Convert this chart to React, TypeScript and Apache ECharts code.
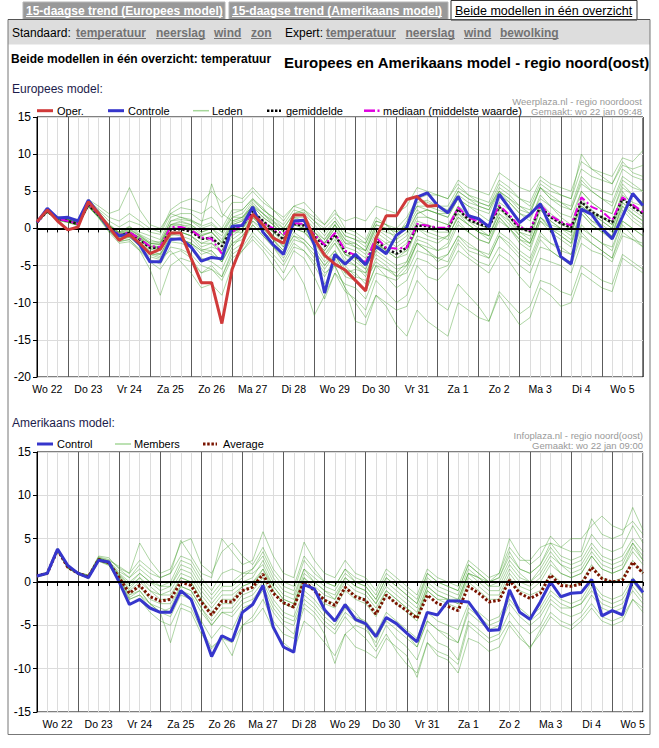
import React, { useEffect, useRef } from 'react';
import * as echarts from 'echarts';

// ---------- tick labels / categories ----------
const dayNames = ['Wo 22', 'Do 23', 'Vr 24', 'Za 25', 'Zo 26', 'Ma 27', 'Di 28', 'Wo 29', 'Do 30', 'Vr 31', 'Za 1', 'Zo 2', 'Ma 3', 'Di 4', 'Wo 5', 'Do 6'];
const euStartHour = 6;
const usStartHour = 0;
const stepCount = 60;

// ---------- Europees model ----------
const euOper = [0.9, 2.5, 1.0, -0.2, 0.2, 3.6, 2.0, 0.2, -1.6, -0.8, -2.0, -3.4, -2.8, -0.6, -0.6, -4.0, -7.3, -7.3, -12.8, -5.5, -2.0, 1.9, 0.5, -1.3, -2.0, 1.8, 1.8, -1.4, -3.6, -4.8, -5.6, -7.0, -8.4, -1.3, 1.7, 1.7, 3.9, 4.3, 3.0, 3.1];
const euControle = [0.8, 2.7, 1.4, 1.5, 1.0, 3.8, 2.0, 0.0, -1.0, -0.8, -2.2, -4.5, -4.5, -1.5, -1.4, -2.5, -4.4, -3.9, -4.1, 0.3, 0.4, 2.9, -0.5, -2.2, -3.5, 1.0, 1.1, -2.2, -8.7, -3.5, -4.8, -3.5, -4.9, -2.4, -3.4, -0.9, 0.1, 4.2, 4.8, 3.1, 2.1, 4.3, 1.7, 1.3, 0.2, 4.6, 2.7, 0.8, 1.9, 3.3, 0.2, -3.8, -4.8, 2.6, 1.9, 0.0, -1.4, 1.6, 4.7, 3.1];
const euGemiddelde = [0.8, 2.3, 1.3, 1.0, 0.6, 3.2, 1.8, 0.2, -1.0, -0.6, -1.5, -2.6, -2.6, -0.2, -0.1, -0.4, -1.4, -1.3, -2.4, 0.0, 0.4, 2.3, 1.0, -0.2, -1.5, 0.6, 0.4, -1.0, -2.4, -0.8, -3.1, -3.7, -4.8, -1.6, -2.7, -3.4, -2.6, 0.4, 0.3, 0.0, -0.1, 2.6, 1.2, 0.6, 0.2, 2.9, 1.6, 0.0, -0.4, 3.0, 1.5, 0.7, 0.1, 3.6, 2.2, 1.5, 0.8, 4.0, 2.9, 2.0];
const euMediaan = [0.8, 2.4, 1.3, 1.0, 0.6, 3.3, 1.9, 0.3, -0.9, -0.5, -1.4, -2.4, -2.5, 0.2, 0.2, -0.2, -1.2, -1.4, -3.4, -0.5, 0.6, 2.0, 0.7, 0.0, -0.8, 0.7, 0.6, -0.8, -2.2, -0.6, -3.0, -3.6, -4.6, -1.2, -2.6, -2.7, -2.6, 0.6, 0.4, 0.1, 0.1, 2.8, 1.5, 0.9, 0.4, 3.1, 1.8, 0.2, -0.2, 3.2, 1.7, 0.9, 0.4, 4.2, 2.9, 2.3, 1.1, 4.2, 3.2, 2.2];

const eu01 = [0.9, 2.6, 1.5, 1.2, 0.8, 3.5, 2.1, 0.6, -0.5, 0.3, -0.8, -1.5, -2.0, 1.0, 1.5, 1.2, 0.3, 0.8, -0.5, 2.0, 2.5, 4.0, 2.8, 1.0, -0.5, 1.5, 0.0, -2.5, -4.5, -3.0, -5.5, -6.0, -7.5, -4.0, -5.0, -6.5, -5.0, -2.0, -3.0, -4.5, -3.5, -1.0, -2.5, -3.0, -4.0, -1.0, -2.5, -4.0, -5.0, -1.5, -3.0, -4.0, -4.5, -0.5, -2.0, -3.0, -4.0, 0.5, -1.0, -2.5];
const eu02 = [0.7, 2.2, 1.1, 0.8, 0.4, 2.9, 1.5, -0.3, -1.8, -1.5, -2.8, -4.2, -4.8, -2.5, -2.8, -3.5, -5.0, -5.5, -6.5, -3.0, -2.0, 0.5, -1.0, -2.5, -4.0, -1.5, -2.0, -3.5, -5.5, -3.5, -6.0, -5.5, -6.0, -3.0, -2.0, -1.5, 0.5, 3.0, 2.5, 2.0, 1.5, 4.0, 3.0, 2.0, 1.0, 4.5, 3.5, 2.0, 1.0, 4.5, 3.0, 1.5, 0.5, 5.0, 3.5, 2.5, 2.0, 6.0, 4.5, 3.5];
const eu03 = [0.8, 2.4, 1.4, 1.1, 0.7, 3.3, 1.9, 0.4, -0.7, -0.2, -1.0, -2.0, -2.2, 0.5, 0.8, 0.5, -0.5, 0.0, -1.0, 1.5, 2.0, 3.8, 2.5, 1.5, 0.0, 2.0, 2.2, 1.0, 0.0, 1.5, -0.5, -1.0, -2.0, 1.0, 0.5, -0.5, 0.5, 3.5, 3.8, 3.0, 2.5, 5.0, 4.0, 3.0, 2.5, 5.5, 4.5, 3.0, 2.0, 5.5, 4.5, 3.5, 3.0, 7.0, 5.5, 5.0, 4.5, 8.0, 7.0, 6.5];
const eu04 = [0.8, 2.1, 1.2, 0.9, 0.5, 3.0, 1.6, 0.0, -1.2, -1.0, -2.0, -3.5, -4.0, -3.0, -4.5, -6.0, -8.0, -7.5, -9.0, -5.0, -3.0, -1.0, -2.5, -4.0, -6.0, -3.0, -4.0, -6.5, -9.5, -6.0, -8.5, -9.5, -11.0, -7.0, -8.5, -10.0, -9.0, -5.0, -6.5, -7.0, -5.5, -3.0, -4.0, -5.0, -6.0, -3.5, -4.5, -6.5, -8.0, -4.0, -4.5, -5.0, -6.0, -2.0, -3.0, -3.5, -4.5, -1.0, -1.5, -2.5];
const eu05 = [0.9, 2.5, 1.4, 1.2, 0.9, 3.6, 2.4, 1.0, 0.2, 1.0, 0.5, -0.5, -0.8, 2.0, 2.8, 2.5, 2.0, 3.0, 1.5, 3.5, 3.5, 5.0, 3.5, 2.5, 1.0, 3.0, 3.5, 2.0, 0.5, 2.5, 0.0, -0.5, -1.5, 1.5, 0.5, -1.0, 0.0, 2.5, 1.5, 1.0, 0.5, 3.0, 1.5, 0.5, 0.0, 3.0, 1.0, -1.0, -2.0, 1.5, 0.0, -1.0, -2.0, 2.0, 0.5, -0.5, -1.0, 3.0, 1.5, 0.5];
const eu06 = [0.7, 2.3, 1.3, 0.9, 0.5, 3.1, 1.7, 0.1, -1.1, -0.8, -1.8, -3.0, -3.5, -1.0, -0.5, -1.0, -2.5, -2.0, -3.5, -1.0, 0.0, 2.0, 0.5, -1.0, -2.5, 0.0, -0.5, -2.0, -4.0, -2.0, -4.5, -5.0, -6.5, -3.0, -4.0, -5.0, -4.5, -1.5, -2.0, -3.0, -2.0, 1.0, -0.5, -1.5, -2.0, 1.5, 0.0, -1.5, -2.5, 1.0, -0.5, -1.5, -2.5, 2.0, 0.5, -0.5, -1.5, 2.5, 1.0, 0.0];
const eu07 = [0.8, 2.3, 1.2, 1.0, 0.6, 3.2, 1.8, 0.3, -0.8, -0.4, -1.2, -2.4, -2.6, 0.0, 0.3, -0.2, -1.0, -0.5, -1.8, 0.8, 1.2, 3.2, 2.0, 0.8, -0.5, 1.5, 1.5, 0.0, -1.5, 0.5, -2.0, -2.0, -3.0, 0.0, -0.5, -1.0, 1.0, 4.0, 4.5, 4.5, 4.0, 6.5, 5.5, 5.0, 4.5, 7.5, 6.5, 5.5, 5.0, 7.0, 6.0, 5.5, 5.0, 9.0, 8.0, 7.5, 7.0, 9.5, 9.0, 10.5];
const eu08 = [0.8, 2.2, 1.3, 1.0, 0.6, 3.1, 1.7, 0.1, -1.0, -0.7, -1.6, -2.8, -3.0, -0.8, -1.0, -1.5, -2.8, -3.0, -4.5, -2.0, -1.5, 0.5, -1.0, -2.5, -4.5, -2.0, -3.0, -5.0, -7.5, -5.0, -8.0, -10.0, -12.0, -9.0, -10.5, -13.0, -14.5, -11.0, -12.5, -13.5, -14.5, -10.0, -11.0, -12.0, -12.5, -9.0, -11.0, -13.0, -12.0, -8.0, -9.0, -10.5, -10.0, -6.0, -7.0, -8.0, -8.5, -4.0, -5.0, -6.0];
const eu09 = [0.9, 2.4, 1.3, 1.0, 0.7, 3.3, 1.9, 0.2, -0.9, -0.3, -1.3, -2.2, -2.5, 0.3, 0.5, 0.3, -0.8, -0.5, -2.0, 0.5, 1.0, 2.5, 1.0, -0.5, -2.0, 0.5, 0.5, -1.0, -2.0, 0.0, -2.5, -3.0, -4.0, -1.0, -2.0, -3.0, -2.0, 1.0, 0.5, 0.0, 0.0, 3.0, 2.0, 1.0, 0.5, 3.5, 2.5, 0.5, -0.5, 3.5, 2.0, 1.0, 0.0, 4.0, 2.5, 1.5, 0.5, 5.0, 3.0, 2.0];
const eu10 = [0.7, 2.2, 1.2, 0.9, 0.5, 3.0, 1.6, -0.1, -1.4, -1.2, -2.4, -3.8, -4.2, -1.8, -2.0, -2.5, -4.0, -4.5, -5.5, -2.5, -1.0, 1.0, -0.5, -1.5, -3.0, -0.5, -1.5, -3.0, -5.0, -3.0, -5.0, -6.5, -7.0, -4.5, -5.5, -6.5, -6.0, -3.0, -3.5, -4.0, -4.5, -1.5, -3.0, -3.5, -4.0, -1.0, -2.0, -3.5, -4.5, -1.0, -2.0, -3.0, -3.5, 0.0, -1.0, -2.0, -3.0, 1.0, 0.0, -1.0];
const eu11 = [0.8, 2.5, 1.5, 1.3, 1.0, 3.8, 2.6, 1.5, 1.0, 2.0, 1.0, 0.0, -0.5, 2.5, 3.5, 4.0, 3.5, 5.0, 3.5, 4.5, 4.0, 5.5, 4.0, 2.5, 1.5, 3.0, 2.5, 1.0, -0.5, 1.0, -1.0, -1.5, -2.5, 0.5, 0.0, -1.5, -0.5, 2.0, 2.5, 2.0, 1.5, 4.0, 3.0, 2.5, 2.0, 5.0, 4.0, 3.0, 2.5, 5.5, 4.0, 3.5, 2.5, 6.5, 5.0, 4.0, 3.5, 7.0, 6.0, 5.0];
const eu12 = [0.8, 2.2, 1.2, 1.0, 0.6, 3.2, 1.8, 0.2, -1.1, -0.9, -1.9, -3.2, -3.4, -1.2, -1.5, -2.0, -3.0, -2.5, -3.0, -0.5, 0.0, 1.5, 0.5, -0.5, -1.5, 1.0, 1.0, -0.5, -1.5, 0.5, -1.5, -2.5, -3.5, -0.5, -1.5, -2.5, -1.5, 1.5, 1.5, 1.0, 0.5, 2.0, 0.5, -0.5, -1.5, 1.5, 0.0, -2.0, -3.0, 1.0, 0.0, -1.0, -2.0, 2.5, 1.0, 0.0, -1.0, 3.5, 2.0, 1.0];
const eu13 = [0.8, 2.3, 1.2, 0.9, 0.5, 3.0, 1.5, -0.3, -1.7, -1.5, -3.0, -5.5, -9.0, -5.0, -4.0, -4.5, -6.0, -5.0, -6.5, -3.5, -2.5, -0.5, -2.0, -3.5, -5.0, -2.5, -3.0, -4.5, -6.5, -4.0, -6.5, -7.0, -8.5, -5.0, -6.5, -8.0, -7.0, -4.0, -4.5, -5.5, -5.0, -2.0, -3.5, -4.5, -5.0, -2.5, -3.5, -5.0, -6.0, -2.5, -3.0, -4.0, -5.0, -1.0, -2.0, -3.0, -4.0, -0.5, -1.5, -2.0];
const eu14 = [0.8, 2.3, 1.3, 1.1, 0.6, 3.2, 1.8, 0.3, -0.9, -0.6, -1.5, -2.5, -2.5, 0.0, 0.0, -0.3, -1.5, -1.0, -2.5, 0.0, 0.5, 2.5, 1.0, 0.0, -1.5, 0.5, 0.0, -1.5, -3.0, -1.0, -3.5, -4.0, -5.0, -2.0, -3.0, -3.5, -3.0, 0.0, 0.0, -0.5, -0.5, 2.5, 1.0, 0.5, 0.0, 3.0, 1.5, 0.0, -0.5, 3.0, 1.5, 0.5, 0.0, 3.5, 2.0, 1.5, 0.5, 4.0, 3.0, 2.0];
const eu15 = [0.9, 2.4, 1.4, 1.1, 0.7, 3.4, 2.0, 0.5, -0.6, 0.0, -0.9, -1.8, -1.8, 1.0, 1.2, 1.0, 0.0, 0.5, -0.5, 1.5, 1.5, 3.0, 1.5, 0.5, -1.0, 1.5, 1.0, -0.5, -2.0, 0.0, -2.0, -2.5, -3.0, 0.5, 0.0, -0.5, 0.5, 3.0, 3.0, 2.5, 2.0, 5.0, 4.0, 3.5, 3.0, 6.0, 5.0, 4.0, 3.5, 6.5, 5.5, 4.5, 4.0, 8.0, 7.0, 6.5, 6.0, 8.5, 8.0, 8.5];
const eu16 = [0.8, 2.3, 1.3, 1.0, 0.6, 3.1, 1.7, 0.1, -1.0, -0.5, -1.4, -2.4, -2.8, -0.5, -0.5, -1.0, -2.0, -2.0, -3.0, -0.5, 0.0, 2.0, 0.5, -1.0, -2.0, 0.0, -0.5, -2.0, -3.5, -2.0, -4.0, -5.0, -6.0, -3.5, -4.5, -5.5, -5.0, -2.0, -3.0, -4.0, -3.5, -1.0, -2.0, -3.0, -3.5, -0.5, -1.5, -3.0, -4.0, -0.5, -2.0, -2.5, -3.5, 0.5, -1.0, -2.0, -2.5, 1.0, 0.0, -1.0];
const eu17 = [0.8, 2.3, 1.3, 1.0, 0.6, 3.2, 1.8, 0.2, -1.0, -0.6, -1.5, -2.7, -2.8, -0.5, -0.5, -1.0, -2.0, -1.5, -3.0, -0.5, -0.5, 1.5, 0.0, -1.5, -3.0, -1.0, -2.0, -4.0, -6.0, -5.0, -8.0, -12.5, -13.0, -9.0, -10.0, -11.0, -10.5, -7.0, -8.5, -10.0, -11.0, -7.5, -9.0, -10.5, -12.5, -8.5, -10.0, -11.5, -10.5, -7.0, -7.5, -8.5, -9.0, -5.0, -6.0, -7.0, -7.5, -3.5, -4.5, -5.5];
const eu18 = [0.8, 2.4, 1.3, 1.1, 0.7, 3.3, 1.9, 0.4, -0.6, -0.1, -1.0, -2.0, -2.2, 0.5, 1.0, 0.5, -0.5, 0.0, -1.5, 1.0, 1.5, 3.0, 2.0, 1.0, 0.0, 2.0, 2.5, 1.5, 0.5, 2.0, 1.0, 1.5, 1.0, 3.0, 2.5, 2.0, 3.0, 5.5, 5.0, 4.5, 4.0, 6.0, 4.5, 3.5, 3.0, 5.0, 3.5, 2.0, 1.5, 4.0, 3.0, 2.0, 1.5, 5.0, 3.5, 2.5, 2.0, 5.5, 4.5, 3.5];
const eu19 = [0.7, 2.2, 1.3, 1.0, 0.5, 3.1, 1.7, 0.0, -1.3, -0.9, -2.0, -3.3, -3.8, -1.5, -1.5, -2.0, -3.5, -3.0, -4.5, -1.5, -0.5, 1.5, 0.0, -1.0, -2.5, 0.5, 0.0, -1.5, -3.5, -1.5, -3.5, -4.0, -5.5, -2.0, -3.0, -4.0, -3.5, 0.0, -0.5, -1.0, -1.5, 2.0, 1.0, 0.0, -1.0, 2.5, 1.5, -0.5, -1.5, 2.5, 1.0, 0.0, -1.0, 3.5, 2.0, 1.0, 0.0, 4.0, 3.0, 2.0];
const eu20 = [0.9, 2.5, 1.4, 1.2, 0.8, 3.4, 2.0, 0.4, -0.5, 0.2, -0.5, -1.0, -1.5, 1.5, 2.0, 2.0, 1.0, 1.5, 0.0, 2.5, 2.5, 4.0, 2.5, 1.5, 0.5, 2.5, 2.0, 0.5, -1.0, 1.0, -1.0, -1.5, -2.0, 1.0, 0.5, 0.0, 1.5, 4.0, 3.5, 3.0, 3.0, 5.5, 4.5, 4.0, 3.5, 6.5, 5.5, 4.0, 3.0, 6.0, 5.0, 4.5, 4.0, 10.0, 8.0, 7.0, 6.0, 9.0, 7.5, 7.0];
const eu21 = [0.8, 2.6, 1.6, 1.4, 1.2, 3.9, 3.0, 2.0, 2.5, 5.5, 2.5, 0.5, 0.0, 2.0, 1.5, 1.0, 0.5, 6.0, 2.0, 1.0, 1.5, 3.5, 2.0, 0.5, -1.0, 1.0, 0.5, -1.5, -3.0, -1.0, -3.5, -4.5, -5.5, -2.0, -3.0, -4.0, -3.0, 0.0, -1.0, -1.5, -1.0, 1.5, 0.5, -0.5, -1.0, 2.0, 1.0, -0.5, -1.0, 2.5, 1.0, 0.0, -0.5, 3.0, 2.0, 1.0, 0.0, 3.5, 2.5, 1.5];
const eu22 = [0.7, 2.2, 1.2, 0.9, 0.4, 2.9, 1.4, -0.5, -2.0, -1.8, -3.0, -4.5, -5.5, -3.5, -3.0, -4.0, -6.0, -5.5, -7.0, -4.0, -3.0, -1.5, -3.0, -5.0, -7.0, -5.0, -7.5, -11.7, -9.0, -6.0, -7.5, -8.0, -9.5, -6.0, -6.5, -7.0, -5.5, -2.0, -2.5, -3.0, -2.5, 0.5, -0.5, -1.5, -2.0, 1.0, 0.0, -1.5, -2.0, 1.5, 0.5, 0.0, -0.5, 3.0, 2.0, 1.5, 1.0, 4.5, 3.5, 3.0];
const eu23 = [0.9, 2.3, 1.4, 1.1, 0.7, 3.2, 1.9, 0.3, -0.7, -0.5, -1.2, -2.0, -2.0, 0.5, 0.5, 0.0, -1.0, -0.5, -2.0, 0.5, 1.0, 3.0, 1.5, 0.5, -1.0, 1.0, 1.0, -0.5, -2.0, 0.5, -1.5, -2.0, -3.0, 0.0, -1.0, -2.0, -1.0, 2.0, 2.5, 2.0, 2.0, 4.5, 3.5, 3.0, 2.5, 5.0, 4.0, 2.5, 2.0, 5.5, 4.0, 3.0, 2.5, 6.0, 5.0, 4.0, 3.0, 6.5, 5.5, 5.0];
const eu24 = [0.7, 2.2, 1.1, 0.8, 0.4, 3.0, 1.5, -0.2, -1.5, -1.2, -2.2, -3.5, -3.5, -1.5, -1.5, -2.0, -3.0, -3.5, -4.5, -2.0, -1.0, 1.0, 0.0, -1.5, -3.5, -1.0, -1.5, -3.0, -5.0, -3.5, -6.0, -7.0, -8.5, -5.0, -5.5, -6.0, -4.5, -1.0, -1.5, -2.0, -1.0, 1.5, 0.5, -0.5, -1.0, 2.0, 0.5, -1.0, -2.0, 1.5, 0.0, -0.5, -1.5, 2.5, 1.0, 0.5, -0.5, 3.0, 2.0, 1.0];
const euLeden = [eu01, eu02, eu03, eu04, eu05, eu06, eu07, eu08, eu09, eu10, eu11, eu12, eu13, eu14, eu15, eu16, eu17, eu18, eu19, eu20, eu21, eu22, eu23, eu24];

// ---------- Amerikaans model ----------
const usControl = [0.7, 1.0, 3.8, 1.9, 1.0, 0.5, 2.5, 2.3, 0.0, -2.6, -2.0, -3.0, -3.5, -3.5, -1.0, -2.0, -5.2, -8.6, -6.2, -6.8, -3.5, -2.6, -0.4, -5.2, -7.5, -8.1, -0.3, -0.8, -3.2, -4.5, -2.6, -4.3, -4.8, -6.3, -4.1, -4.8, -5.9, -6.9, -3.5, -3.8, -2.2, -2.2, -2.3, -3.9, -5.6, -5.5, -0.9, -3.5, -4.3, -2.3, 0.0, -1.7, -1.3, -1.2, 0.3, -3.9, -3.3, -3.8, 0.3, -1.2];
const usAverage = [0.7, 1.0, 3.7, 1.7, 1.0, 0.6, 2.6, 2.2, 0.5, -1.3, -0.4, -1.7, -2.2, -2.0, 0.0, -0.4, -2.3, -3.8, -2.2, -2.3, -1.0, -0.6, 0.9, -1.3, -2.4, -2.9, 0.1, -1.0, -2.1, -2.7, -0.6, -1.7, -2.1, -3.7, -1.5, -2.5, -3.3, -4.2, -1.5, -2.5, -2.8, -3.3, -0.5, -1.3, -2.3, -2.1, 0.2, -1.3, -1.9, -1.3, 0.8, -0.4, -0.5, -0.2, 1.7, 0.4, 0.0, 0.2, 2.3, 1.0];

const us01 = [0.7, 1.1, 3.9, 1.8, 1.1, 0.8, 3.0, 2.8, 1.5, 0.5, 1.5, 0.5, -0.5, -0.5, 2.0, 1.5, -0.5, -2.0, -0.5, -0.5, 0.5, 1.5, 3.0, 0.5, -1.0, -1.5, 1.5, 0.5, -0.5, -1.0, 1.0, 0.0, -0.5, -2.0, 0.5, -0.5, -1.5, -2.5, 0.5, -0.5, -1.0, -1.5, 1.5, 0.5, -0.5, -0.5, 2.0, 0.5, 0.0, 1.0, 3.0, 2.0, 1.5, 2.0, 4.0, 2.5, 2.0, 2.5, 4.5, 3.0];
const us02 = [0.6, 0.9, 3.6, 1.6, 0.9, 0.4, 2.4, 1.9, 0.0, -2.5, -2.0, -3.5, -4.5, -5.0, -2.5, -3.0, -5.5, -7.5, -6.5, -7.0, -5.0, -4.5, -3.0, -5.5, -7.0, -8.0, -4.5, -5.5, -7.0, -8.5, -6.0, -7.5, -8.0, -8.8, -6.5, -7.5, -8.5, -11.0, -7.0, -8.5, -9.0, -10.5, -6.5, -7.0, -8.0, -7.5, -5.0, -6.5, -7.5, -6.0, -4.0, -5.0, -5.5, -4.5, -3.0, -4.5, -5.0, -4.5, -2.0, -3.5];
const us03 = [0.7, 1.0, 3.7, 1.7, 1.0, 0.7, 2.8, 2.5, 1.8, 1.0, 2.5, 1.5, 0.5, 1.0, 4.8, 3.0, 1.0, 0.5, 5.0, 3.5, 2.0, 2.5, 5.8, 3.0, 1.0, 0.5, 4.6, 2.5, 1.0, 0.5, 2.5, 1.0, 0.5, -1.0, 1.5, 0.5, -0.5, -1.5, 1.5, 0.5, 0.0, -0.5, 2.5, 1.5, 0.5, 1.0, 5.0, 3.0, 2.0, 3.0, 5.3, 4.0, 3.5, 3.5, 7.3, 5.5, 5.0, 5.5, 8.6, 6.0];
const us04 = [0.8, 1.0, 3.6, 1.6, 0.9, 0.5, 2.5, 2.0, 0.3, -1.8, -1.0, -2.5, -3.0, -3.5, -1.0, -1.5, -3.5, -5.0, -3.5, -3.5, -2.0, -1.5, 0.0, -2.5, -4.0, -4.5, -1.5, -2.5, -4.0, -5.0, -3.0, -4.0, -4.5, -6.0, -3.5, -4.5, -5.5, -6.5, -3.5, -4.5, -5.0, -5.5, -2.5, -3.5, -4.5, -4.0, -1.5, -3.0, -4.0, -3.0, -1.0, -2.0, -2.5, -2.0, 0.0, -1.5, -2.0, -1.5, 0.5, -1.0];
const us05 = [0.7, 1.0, 3.8, 1.8, 1.0, 0.6, 2.7, 2.2, 0.5, -1.5, -1.0, -2.5, -3.5, -7.0, -3.0, -3.5, -6.0, -7.7, -6.5, -8.5, -5.0, -4.0, -2.0, -4.5, -6.0, -6.5, -3.0, -4.0, -6.0, -9.4, -6.0, -5.0, -5.5, -7.0, -4.0, -5.0, -6.0, -7.5, -4.5, -5.5, -6.5, -7.0, -3.5, -4.5, -5.5, -5.0, -2.5, -4.0, -5.0, -4.0, -2.0, -3.0, -3.0, -2.5, -1.0, -2.5, -3.0, -2.5, -0.5, -2.0];
const us06 = [0.7, 1.0, 3.7, 1.7, 1.0, 0.6, 2.6, 2.3, 1.0, 0.0, 1.0, 0.0, -1.0, -0.5, 1.5, 1.0, -1.0, -2.5, -1.0, -1.0, 0.0, 0.5, 2.5, 0.0, -1.5, -2.0, 1.5, 0.0, -1.0, -1.5, 0.5, -0.5, -1.0, -2.5, 0.0, -1.0, -2.0, -3.0, 0.0, -1.0, -1.5, -2.0, 1.0, 0.0, -1.0, -1.0, 1.5, 0.0, -0.5, 0.5, 2.5, 1.0, 0.5, 1.0, 3.0, 1.5, 1.0, 1.5, 4.0, 2.5];
const us07 = [0.6, 0.9, 3.7, 1.8, 1.1, 0.8, 2.9, 2.6, 1.6, 1.0, 4.5, 2.5, 1.0, 1.5, 4.5, 5.0, 2.0, 1.0, 3.5, 4.5, 3.0, 2.0, 4.0, 1.5, 0.0, -0.5, 3.0, 1.5, 0.0, -0.5, 1.5, 0.0, -0.5, -2.0, 0.5, -0.5, -1.5, -2.5, 1.0, 0.0, -0.5, -1.0, 2.0, 1.0, 0.0, 0.5, 3.5, 1.5, 1.0, 2.0, 4.5, 3.0, 2.5, 3.0, 5.5, 4.0, 3.5, 4.0, 6.5, 4.5];
const us08 = [0.7, 1.0, 3.6, 1.6, 0.9, 0.5, 2.5, 2.1, 0.2, -2.0, -1.5, -3.0, -3.5, -3.0, -0.5, -1.0, -3.0, -4.5, -3.0, -3.0, -1.5, -1.0, 0.5, -2.0, -3.5, -4.0, -1.0, -2.0, -3.5, -4.5, -2.5, -3.5, -5.0, -7.5, -5.0, -6.5, -7.5, -9.0, -5.5, -7.0, -7.5, -9.0, -4.5, -5.5, -6.5, -6.0, -3.5, -5.0, -6.0, -5.0, -2.5, -3.5, -4.0, -3.5, -1.5, -3.0, -3.5, -3.0, -1.0, -2.5];
const us09 = [0.7, 1.0, 3.7, 1.7, 1.0, 0.6, 2.6, 2.2, 0.6, -1.0, 0.0, -1.0, -1.5, -1.0, 1.0, 0.5, -1.5, -3.0, -1.5, -1.5, -0.5, 0.0, 1.5, -0.5, -2.0, -2.5, 0.5, -0.5, -1.5, -2.0, 0.0, -1.0, -1.5, -3.0, -1.0, -2.0, -3.0, -4.0, -1.0, -2.0, -2.5, -3.0, 0.0, -1.0, -2.0, -2.0, 0.5, -1.0, -1.5, -1.0, 1.0, 0.0, -0.5, 0.0, 2.0, 0.5, 0.0, 0.5, 2.5, 1.0];
const us10 = [0.8, 1.1, 3.8, 1.8, 1.1, 0.7, 2.7, 2.3, 0.7, -0.8, 0.5, -0.5, -1.5, -1.5, 0.5, 0.0, -2.0, -3.5, -2.0, -2.0, -0.5, 0.0, 1.0, -1.0, -2.5, -3.0, 0.0, -1.0, -2.5, -3.0, -1.0, -2.0, -2.5, -4.0, -1.5, -2.5, -3.5, -4.5, -1.0, -2.0, -2.0, -2.5, 1.0, 0.5, 0.0, 1.0, 4.0, 2.5, 2.5, 4.0, 4.5, 4.0, 5.0, 5.0, 6.5, 7.6, 6.5, 6.0, 7.0, 5.5];
const us11 = [0.6, 0.9, 3.6, 1.6, 0.9, 0.5, 2.4, 2.0, 0.0, -2.0, -1.5, -2.5, -3.5, -4.0, -1.5, -2.0, -4.5, -6.5, -5.0, -5.5, -3.0, -2.5, -1.0, -3.5, -5.0, -6.0, -2.5, -3.5, -5.0, -6.0, -4.0, -5.5, -6.5, -8.0, -6.0, -8.0, -9.5, -10.5, -7.0, -8.0, -8.5, -9.5, -5.0, -6.0, -7.0, -6.5, -4.5, -6.0, -7.7, -5.5, -3.5, -4.5, -5.0, -4.0, -2.5, -4.0, -4.5, -4.0, -2.0, -3.0];
const us12 = [0.7, 1.0, 3.7, 1.7, 1.0, 0.6, 2.7, 2.3, 0.8, -0.5, 0.5, -1.0, -2.0, -2.0, 0.5, 0.0, -2.0, -4.0, -2.5, -2.5, -1.0, -0.5, 1.5, -1.0, -2.5, -3.0, 0.5, -1.0, -2.0, -2.5, -0.5, -1.5, -2.0, -3.5, -1.0, -2.0, -3.0, -4.0, -0.5, -1.5, -2.0, -2.5, 0.5, -0.5, -1.5, -1.5, 1.0, -0.5, -1.0, 0.0, 2.0, 1.0, 0.5, 1.0, 3.0, 1.5, 1.0, 1.5, 3.5, 2.0];
const us13 = [0.7, 1.0, 3.8, 1.8, 1.0, 0.6, 2.7, 2.4, 1.2, 0.5, 2.0, 1.0, 0.5, 1.0, 3.0, 2.5, 0.5, -1.0, 1.0, 1.5, 1.0, 1.5, 3.5, 1.0, -0.5, -1.0, 2.5, 1.0, 0.0, -0.5, 1.5, 0.5, 0.0, -1.5, 1.0, 0.0, -1.0, -2.0, 1.0, 0.0, -0.5, -1.0, 2.0, 1.0, 0.0, 0.5, 3.0, 1.5, 1.0, 2.0, 4.0, 2.5, 2.0, 2.5, 4.5, 3.0, 2.5, 3.0, 5.0, 3.5];
const us14 = [0.7, 1.0, 3.6, 1.6, 1.0, 0.5, 2.5, 2.1, 0.3, -1.5, -0.5, -2.0, -2.5, -2.5, -0.5, -1.0, -3.0, -5.0, -3.5, -4.0, -2.5, -2.0, -0.5, -3.0, -4.5, -5.0, -2.0, -3.0, -4.5, -5.5, -3.5, -4.5, -5.0, -6.5, -4.5, -5.5, -6.5, -7.5, -4.5, -5.5, -6.0, -7.0, -3.0, -4.0, -5.0, -4.5, -2.0, -3.5, -4.5, -3.5, -1.5, -2.5, -3.0, -2.5, -0.5, -2.0, -2.5, -2.0, 0.0, -1.5];
const us15 = [0.8, 1.1, 3.8, 1.9, 1.1, 0.7, 2.8, 2.4, 0.9, -0.3, 1.0, 0.0, -0.5, 0.0, 2.5, 2.0, 0.0, -1.5, 0.0, 0.0, 1.0, 1.0, 2.0, -0.5, -2.0, -2.5, 1.0, 0.0, -1.0, -2.0, 0.5, -0.5, -1.0, -2.5, -0.5, -1.5, -2.5, -3.5, -0.5, -1.5, -2.0, -2.0, 1.0, 0.5, -0.5, 0.0, 2.5, 1.0, 0.0, 1.5, 3.5, 2.0, 1.0, 1.5, 3.5, 2.0, 1.5, 2.0, 4.5, 2.5];
const usMembers = [us01, us02, us03, us04, us05, us06, us07, us08, us09, us10, us11, us12, us13, us14, us15];

// ---------- texts ----------
const tabLabels = ['15-daagse trend (Europees model)', '15-daagse trend (Amerikaans model)', 'Beide modellen in één overzicht'];
const menuStandaard = ['temperatuur', 'neerslag', 'wind', 'zon'];
const menuExpert = ['temperatuur', 'neerslag', 'wind', 'bewolking'];

const FONT = '"Liberation Sans", Arial, sans-serif';

function makeCats(startHour: number, n: number) {
  const out: string[] = [];
  for (let i = 0; i < n; i++) {
    const t = startHour + 6 * i;
    out.push(dayNames[Math.floor(t / 24)] + ' ' + (t % 24));
  }
  return out;
}

export default function App() {
  const ref = useRef<HTMLDivElement>(null);

  useEffect(() => {
    if (!ref.current) return;
    const chart = echarts.init(ref.current, undefined, { renderer: 'svg' });
    const ctx = document.createElement('canvas').getContext('2d') as CanvasRenderingContext2D;
    const measure = (t: string, font: string) => { ctx.font = font; return ctx.measureText(t).width; };

    const g: any[] = [];
    const text = (t: string, x: number, y: number, font: string, fill: string, align = 'left') => {
      g.push({ type: 'text', x, y, silent: true, z: 10, style: { text: t, font, fill, align, verticalAlign: 'middle', textAlign: align, textVerticalAlign: 'middle' } });
    };
    const line = (x1: number, y1: number, x2: number, y2: number, stroke: string, lineWidth: number, lineDash?: number[]) => {
      g.push({ type: 'line', silent: true, z: 10, shape: { x1, y1, x2, y2 }, style: { stroke, lineWidth, lineDash } });
    };
    const link = (t: string, x: number, y: number, font: string, fill: string) => {
      text(t, x, y, font, fill);
      const w = measure(t, font);
      line(x, y + 5.5, x + w, y + 5.5, fill, 1);
    };

    // outer box + panel
    g.push({ type: 'rect', silent: true, z: 1, shape: { x: 8, y: 19.5, width: 642, height: 25 }, style: { fill: '#dddddd' } });
    g.push({ type: 'rect', silent: true, z: 1, shape: { x: 8, y: 19.5, width: 642, height: 715 }, style: { fill: 'none', stroke: '#777', lineWidth: 1 } });
    line(8, 19.5, 650, 19.5, '#555', 1);
    // tabs
    const tabBold = 'bold 12px ' + FONT;
    g.push({ type: 'rect', silent: true, z: 2, shape: { x: 23, y: 2, width: 202, height: 17.5 }, style: { fill: '#999999', stroke: '#b5b5b5', lineWidth: 1 } });
    g.push({ type: 'rect', silent: true, z: 2, shape: { x: 229, y: 2, width: 219, height: 17.5 }, style: { fill: '#999999', stroke: '#b5b5b5', lineWidth: 1 } });
    g.push({ type: 'rect', silent: true, z: 2, shape: { x: 451, y: 0.5, width: 186, height: 19.5 }, style: { fill: '#ffffff', stroke: '#333', lineWidth: 1 } });
    link(tabLabels[0], 26, 11, tabBold, '#ffffff');
    link(tabLabels[1], 232, 11, tabBold, '#ffffff');
    link(tabLabels[2], 455, 11, '12.5px ' + FONT, '#000000');

    // menu
    const reg12 = '12px ' + FONT;
    const linkFont = 'bold 12px ' + FONT;
    const linkCol = '#737373';
    text('Standaard:', 12, 33, reg12, '#000');
    const sx = [76, 156, 214, 251];
    menuStandaard.forEach((t, i) => link(t, sx[i], 33, linkFont, linkCol));
    text('Expert:', 285, 33, reg12, '#000');
    const ex = [326, 405.5, 464, 500];
    menuExpert.forEach((t, i) => link(t, ex[i], 33, linkFont, linkCol));

    text('Beide modellen in één overzicht: temperatuur', 11, 59, 'bold 12px ' + FONT, '#000');
    text('Europees en Amerikaans model - regio noord(oost)', 284, 62, 'bold 15px ' + FONT, '#000');

    const navy = '#1c1c4c';
    text('Europees model:', 12, 89, reg12, navy);
    text('Amerikaans model:', 12, 423, reg12, navy);

    // legends
    const lg = '11px ' + FONT;
    const ly = 110.7;
    line(37, ly, 53, ly, '#d03a3a', 3); text('Oper.', 57, ly, lg, '#000');
    line(108, ly, 124, ly, '#3636cc', 3); text('Controle', 128, ly, lg, '#000');
    line(193, ly, 209, ly, '#a6d79a', 1.5); text('Leden', 212, ly, lg, '#000');
    line(267, ly, 281, ly, '#000', 2.5, [2.4, 1.6]); text('gemiddelde', 286, ly, lg, '#000');
    line(364, ly, 375, ly, '#e000e0', 2.5); line(377.5, ly, 379.5, ly, '#e000e0', 2.5);
    text('mediaan (middelste waarde)', 383, ly, lg, '#000');
    const sm = '9.5px ' + FONT;
    text('Weerplaza.nl - regio noordoost', 642, 101, sm, '#999', 'right');
    text('Gemaakt: wo 22 jan 09:48', 642, 111, sm, '#999', 'right');

    const ly2 = 444;
    line(37, ly2, 53, ly2, '#3636cc', 3); text('Control', 57, ly2, lg, '#000');
    line(115, ly2, 131, ly2, '#a6d79a', 1.5); text('Members', 134, ly2, lg, '#000');
    line(203, ly2, 217, ly2, '#7a1400', 3, [2.5, 1.7]); text('Average', 223, ly2, lg, '#000');
    text('Infoplaza.nl - regio noord(oost)', 643, 435, sm, '#999', 'right');
    text('Gemaakt: wo 22 jan 09:00', 643, 445, sm, '#999', 'right');

    const euCats = makeCats(euStartHour, stepCount);
    const usCats = makeCats(usStartHour, stepCount);

    const xMain = (gi: number, cats: string[]) => ({
      type: 'category', gridIndex: gi, data: cats, boundaryGap: false,
      axisLine: { show: true, lineStyle: { color: '#000', width: 1 } },
      axisTick: { show: true, interval: 0, length: 4, lineStyle: { color: '#000' } },
      axisLabel: {
        interval: (idx: number, val: string) => val.endsWith(' 12'),
        formatter: (val: string) => val.split(' ').slice(0, 2).join(' '),
        color: '#000', fontSize: 10.5, fontFamily: FONT, margin: 6,
      },
      splitLine: { show: true, interval: 0, lineStyle: { color: '#dcdcdc', width: 1 } },
    });
    const xDays = (gi: number, cats: string[]) => ({
      type: 'category', gridIndex: gi, data: cats, boundaryGap: false, position: 'top',
      axisLine: { show: false }, axisTick: { show: false }, axisLabel: { show: false },
      splitLine: { show: true, interval: (idx: number, val: string) => idx > 0 && val.endsWith(' 0'), lineStyle: { color: '#5c5c5c', width: 1 } },
    });
    const yAx = (gi: number, min: number, max: number) => ({
      type: 'value', gridIndex: gi, min, max, interval: 5,
      axisLine: { show: true, lineStyle: { color: '#000' } },
      axisTick: { show: true, length: 4, lineStyle: { color: '#000' } },
      axisLabel: { color: '#000', fontSize: 12, fontFamily: FONT, margin: 6 },
      splitLine: { show: true, lineStyle: { color: '#dcdcdc' } },
    });

    const green = 'rgba(65,158,40,0.42)';
    const series: any[] = [];
    euLeden.forEach((d) => series.push({ type: 'line', name: 'Leden', xAxisIndex: 0, yAxisIndex: 0, data: d, symbol: 'none', silent: true, z: 2, lineStyle: { width: 1, color: green } }));
    series.push({
      type: 'line', name: 'gemiddelde', xAxisIndex: 0, yAxisIndex: 0, data: euGemiddelde, symbol: 'none', silent: true, z: 3,
      lineStyle: { width: 2.5, color: '#111', type: [2.4, 2] },
      markLine: { silent: true, symbol: 'none', label: { show: false }, lineStyle: { color: '#000', width: 2, type: 'solid' }, data: [{ yAxis: 0 }] },
    });
    series.push({ type: 'line', name: 'mediaan', xAxisIndex: 0, yAxisIndex: 0, data: euMediaan, symbol: 'none', silent: true, z: 3, lineStyle: { width: 2, color: '#e000e0', type: [8, 3, 2, 3] } });
    series.push({ type: 'line', name: 'Controle', xAxisIndex: 0, yAxisIndex: 0, data: euControle, symbol: 'none', silent: true, z: 4, lineStyle: { width: 3, color: '#3636cc' } });
    series.push({ type: 'line', name: 'Oper.', xAxisIndex: 0, yAxisIndex: 0, data: euOper, symbol: 'none', silent: true, z: 5, lineStyle: { width: 3, color: '#d03a3a' } });

    usMembers.forEach((d) => series.push({ type: 'line', name: 'Members', xAxisIndex: 2, yAxisIndex: 1, data: d, symbol: 'none', silent: true, z: 2, lineStyle: { width: 1, color: green } }));
    series.push({
      type: 'line', name: 'Average', xAxisIndex: 2, yAxisIndex: 1, data: usAverage, symbol: 'none', silent: true, z: 3,
      lineStyle: { width: 3, color: '#7a1400', type: [2.5, 2] },
      markLine: { silent: true, symbol: 'none', label: { show: false }, lineStyle: { color: '#000', width: 2, type: 'solid' }, data: [{ yAxis: 0 }] },
    });
    series.push({ type: 'line', name: 'Control', xAxisIndex: 2, yAxisIndex: 1, data: usControl, symbol: 'none', silent: true, z: 4, lineStyle: { width: 3, color: '#3636cc' } });

    chart.setOption({
      animation: false,
      backgroundColor: '#ffffff',
      grid: [
        { left: 37, top: 117, width: 606, height: 260, show: true, borderColor: '#000', borderWidth: 1, backgroundColor: 'transparent' },
        { left: 37, top: 452, width: 606, height: 260, show: true, borderColor: '#000', borderWidth: 1, backgroundColor: 'transparent' },
      ],
      xAxis: [xMain(0, euCats), xDays(0, euCats), xMain(1, usCats), xDays(1, usCats)],
      yAxis: [yAx(0, -20, 15), yAx(1, -15, 15)],
      series,
      graphic: { elements: g },
    });
    return () => chart.dispose();
  }, []);

  return (
    <div style={{ position: 'absolute', left: 0, top: 0, width: 659, height: 748, background: '#fff' }}>
      <div ref={ref} style={{ width: 659, height: 748 }} />
    </div>
  );
}
